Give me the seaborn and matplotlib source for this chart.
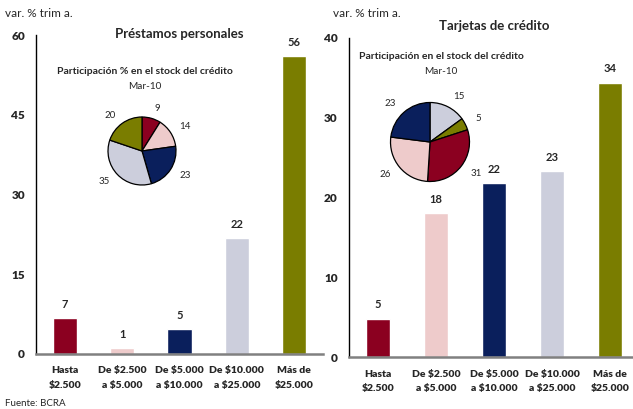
import numpy as np
import pandas as pd
import seaborn as sns
import matplotlib.pyplot as plt

categories = ['Hasta\n$2.500', 'De $2.500\na $5.000', 'De $5.000\na $10.000',
              'De $10.000\na $25.000', 'Más de\n$25.000']
prestamos = [6.8, 1.1, 4.7, 21.8, 56.0]
tarjetas = [4.8, 18.0, 21.8, 23.3, 34.4]
colors = ['#8B0020', '#EECBCB', '#0A1F5C', '#CCCEDC', '#7A7D00']

# pie shares (clockwise from top)
pie_prest_vals = [9, 14, 23, 35, 20]
pie_prest_cols = [colors[0], colors[1], colors[2], colors[3], colors[4]]
pie_tarj_vals = [15, 5, 31, 26, 23]
pie_tarj_cols = [colors[3], colors[4], colors[0], colors[1], colors[2]]

sns.set_style('white')
plt.rcParams['font.family'] = ['Lato', 'DejaVu Sans']
plt.rcParams['font.weight'] = 'heavy'  # tick labels heavy by default

fig = plt.figure(figsize=(6.33, 4.09), dpi=100)


def bar_panel(rect, values, ymax, step, title, title_y):
    ax = fig.add_axes(rect)
    df = pd.DataFrame({'cat': categories, 'val': values})
    sns.barplot(data=df, x='cat', y='val', hue='cat', palette=colors,
                width=0.42, legend=False, ax=ax, saturation=1)
    ax.tick_params(axis='y', direction='in', length=4, width=1, pad=8, labelsize=8.5)
    ax.tick_params(axis='x', length=0, pad=9, labelsize=7.5)
    ax.set_xlim(-0.5, 4.5)
    ax.set_ylim(0, ymax)
    ax.set_yticks(np.arange(0, ymax + 1, step))
    ax.set_xticks(range(len(categories)), categories, linespacing=1.8)
    ax.set_xlabel('')
    ax.set_ylabel('')
    for s in ['top', 'right']:
        ax.spines[s].set_visible(False)
    ax.spines['left'].set_color('black')
    ax.spines['left'].set_linewidth(1.0)
    ax.spines['bottom'].set_color('#808080')
    ax.spines['bottom'].set_linewidth(1.8)
    for c in ax.containers:
        ax.bar_label(c, fmt='%.0f', padding=6, fontsize=8, fontweight='bold')
    ax.set_title(title, fontsize=9.5, fontweight='bold', y=title_y)
    return ax


bar_panel([0.0569, 0.1345, 0.4534, 0.7799], prestamos, 60, 15,
          'Préstamos personales', 0.965)
bar_panel([0.5513, 0.1271, 0.4581, 0.7800], tarjetas, 40, 10,
          'Tarjetas de crédito', 1.0)

fig.text(0.008, 0.958, 'var. % trim a.', fontsize=8.5, fontweight='normal')
fig.text(0.526, 0.958, 'var. % trim a.', fontsize=8.5, fontweight='normal')
fig.text(0.008, 0.014, 'Fuente: BCRA', fontsize=7, va='center', fontweight='normal')

fig.text(0.229, 0.824, 'Participación % en el stock del crédito', fontsize=7.5,
         fontweight='bold', ha='center', va='center')
fig.text(0.229, 0.789, 'Mar-10', fontsize=7.2, ha='center', va='center',
         fontweight='normal')
fig.text(0.697, 0.861, 'Participación en el stock del crédito', fontsize=7.5,
         fontweight='bold', ha='center', va='center')
fig.text(0.697, 0.824, 'Mar-10', fontsize=7.2, ha='center', va='center',
         fontweight='normal')


def pie_panel(cx, cy, r, vals, cols):
    w = 2 * r / 633 * 1.6
    h = 2 * r / 409 * 1.6
    pax = fig.add_axes([cx / 633 - w / 2, 1 - cy / 409 - h / 2, w, h])
    pax.pie(vals, colors=cols, startangle=90, counterclock=False,
            labels=[str(v) for v in vals], labeldistance=1.3,
            wedgeprops=dict(edgecolor='black', linewidth=0.9),
            textprops=dict(fontsize=7, fontweight='normal'))
    pax.set_xlim(-1.6, 1.6)
    pax.set_ylim(-1.6, 1.6)
    pax.set_aspect('equal')
    pax.axis('off')


pie_panel(142, 151, 34, pie_prest_vals, pie_prest_cols)
pie_panel(430, 142, 39.5, pie_tarj_vals, pie_tarj_cols)

fig.savefig('out.png', dpi=100)
